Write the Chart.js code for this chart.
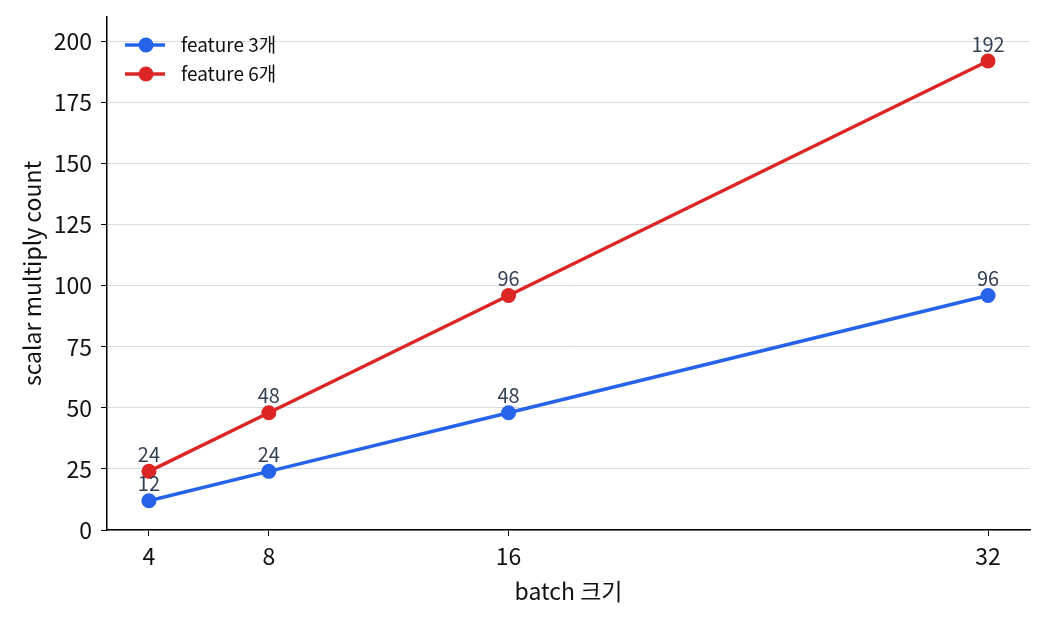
<!DOCTYPE html>
<html>
<head>
<meta charset="utf-8">
<script src="https://cdn.jsdelivr.net/npm/chart.js@4/dist/chart.umd.min.js"></script>
<style>
  html, body { margin: 0; padding: 0; background: #fff; }
  #wrap { width: 1045px; height: 620px; }
</style>
</head>
<body>
<div id="wrap"><canvas id="myChart"></canvas></div>
<script>
var batchSizes = [4, 8, 16, 32];
var feature3 = [12, 24, 48, 96];
var feature6 = [24, 48, 96, 192];
var seriesNames = ['feature 3개', 'feature 6개'];
var seriesColors = ['#2563eb', '#dc2626'];
var yTicks = [0, 25, 50, 75, 100, 125, 150, 175, 200];

var FONT = "'Noto Sans CJK KR', 'Noto Sans', sans-serif";

function toPoints(xs, ys) {
    return xs.map(function (x, i) { return { x: x, y: ys[i] }; });
}

// labels above each point
var pointLabels = {
    id: 'pointLabels',
    afterDatasetsDraw: function (chart) {
        var c = chart.ctx;
        c.save();
        c.font = '20px ' + FONT;
        c.fillStyle = '#334155';
        c.textAlign = 'center';
        c.textBaseline = 'bottom';
        chart.data.datasets.forEach(function (ds, i) {
            chart.getDatasetMeta(i).data.forEach(function (pt, j) {
                c.fillText(String(ds.data[j].y), pt.x, pt.y - 7);
            });
        });
        c.restore();
    }
};

// legend in the top-left corner of the plot
var cornerLegend = {
    id: 'cornerLegend',
    afterDraw: function (chart) {
        var c = chart.ctx;
        var a = chart.chartArea;
        c.save();
        c.font = '19px ' + FONT;
        c.textBaseline = 'middle';
        chart.data.datasets.forEach(function (ds, i) {
            var y = a.top + 28 + i * 29;
            var x0 = a.left + 18;
            c.strokeStyle = ds.borderColor;
            c.lineWidth = 3.5;
            c.beginPath();
            c.moveTo(x0, y);
            c.lineTo(x0 + 40, y);
            c.stroke();
            c.fillStyle = ds.borderColor;
            c.beginPath();
            c.arc(x0 + 21, y, 7.5, 0, Math.PI * 2);
            c.fill();
            c.fillStyle = '#111';
            c.fillText(ds.label, x0 + 56, y);
        });
        c.restore();
    }
};

var ctx = document.getElementById('myChart');
var myChart = new Chart(ctx, {
    type: 'line',
    data: {
        datasets: [{
            label: seriesNames[0],
            data: toPoints(batchSizes, feature3),
            borderColor: seriesColors[0],
            backgroundColor: seriesColors[0],
            borderWidth: 3.5,
            pointRadius: 7.5,
            pointBorderWidth: 0
        }, {
            label: seriesNames[1],
            data: toPoints(batchSizes, feature6),
            borderColor: seriesColors[1],
            backgroundColor: seriesColors[1],
            borderWidth: 3.5,
            pointRadius: 7.5,
            pointBorderWidth: 0
        }]
    },
    options: {
        responsive: true,
        maintainAspectRatio: false,
        animation: false,
        layout: { padding: { top: 17, right: 15, left: 0, bottom: 0 } },
        plugins: {
            legend: { display: false },
            tooltip: { enabled: false }
        },
        scales: {
            x: {
                type: 'linear',
                min: 2.6,
                max: 33.4,
                afterBuildTicks: function (scale) {
                    scale.ticks = batchSizes.map(function (v) { return { value: v }; });
                },
                afterFit: function (scale) { scale.height = 90; },
                grid: { drawOnChartArea: false, drawTicks: true, tickLength: 6, tickColor: '#000' },
                border: { display: true, color: '#000', width: 1.5 },
                ticks: { color: '#111', font: { family: FONT, size: 23 }, padding: 6 },
                title: {
                    display: true,
                    text: 'batch 크기',
                    color: '#111',
                    font: { family: FONT, size: 23 },
                    padding: { top: 0, bottom: 15 }
                }
            },
            y: {
                min: 0,
                max: 210,
                afterBuildTicks: function (scale) {
                    scale.ticks = yTicks.map(function (v) { return { value: v }; });
                },
                afterFit: function (scale) {
                    scale.width = 107;
                    scale.paddingTop = 0;
                    scale.paddingBottom = 0;
                },
                grid: { color: '#d9dce1', lineWidth: 1, tickLength: 6, tickColor: '#000' },
                border: { display: true, color: '#000', width: 1.5 },
                ticks: { color: '#111', font: { family: FONT, size: 23 }, padding: 9 },
                title: {
                    display: true,
                    text: 'scalar multiply count',
                    color: '#111',
                    font: { family: FONT, size: 23 },
                    padding: { top: 18, bottom: 0 }
                }
            }
        }
    },
    plugins: [pointLabels, cornerLegend]
});
</script>
</body>
</html>
